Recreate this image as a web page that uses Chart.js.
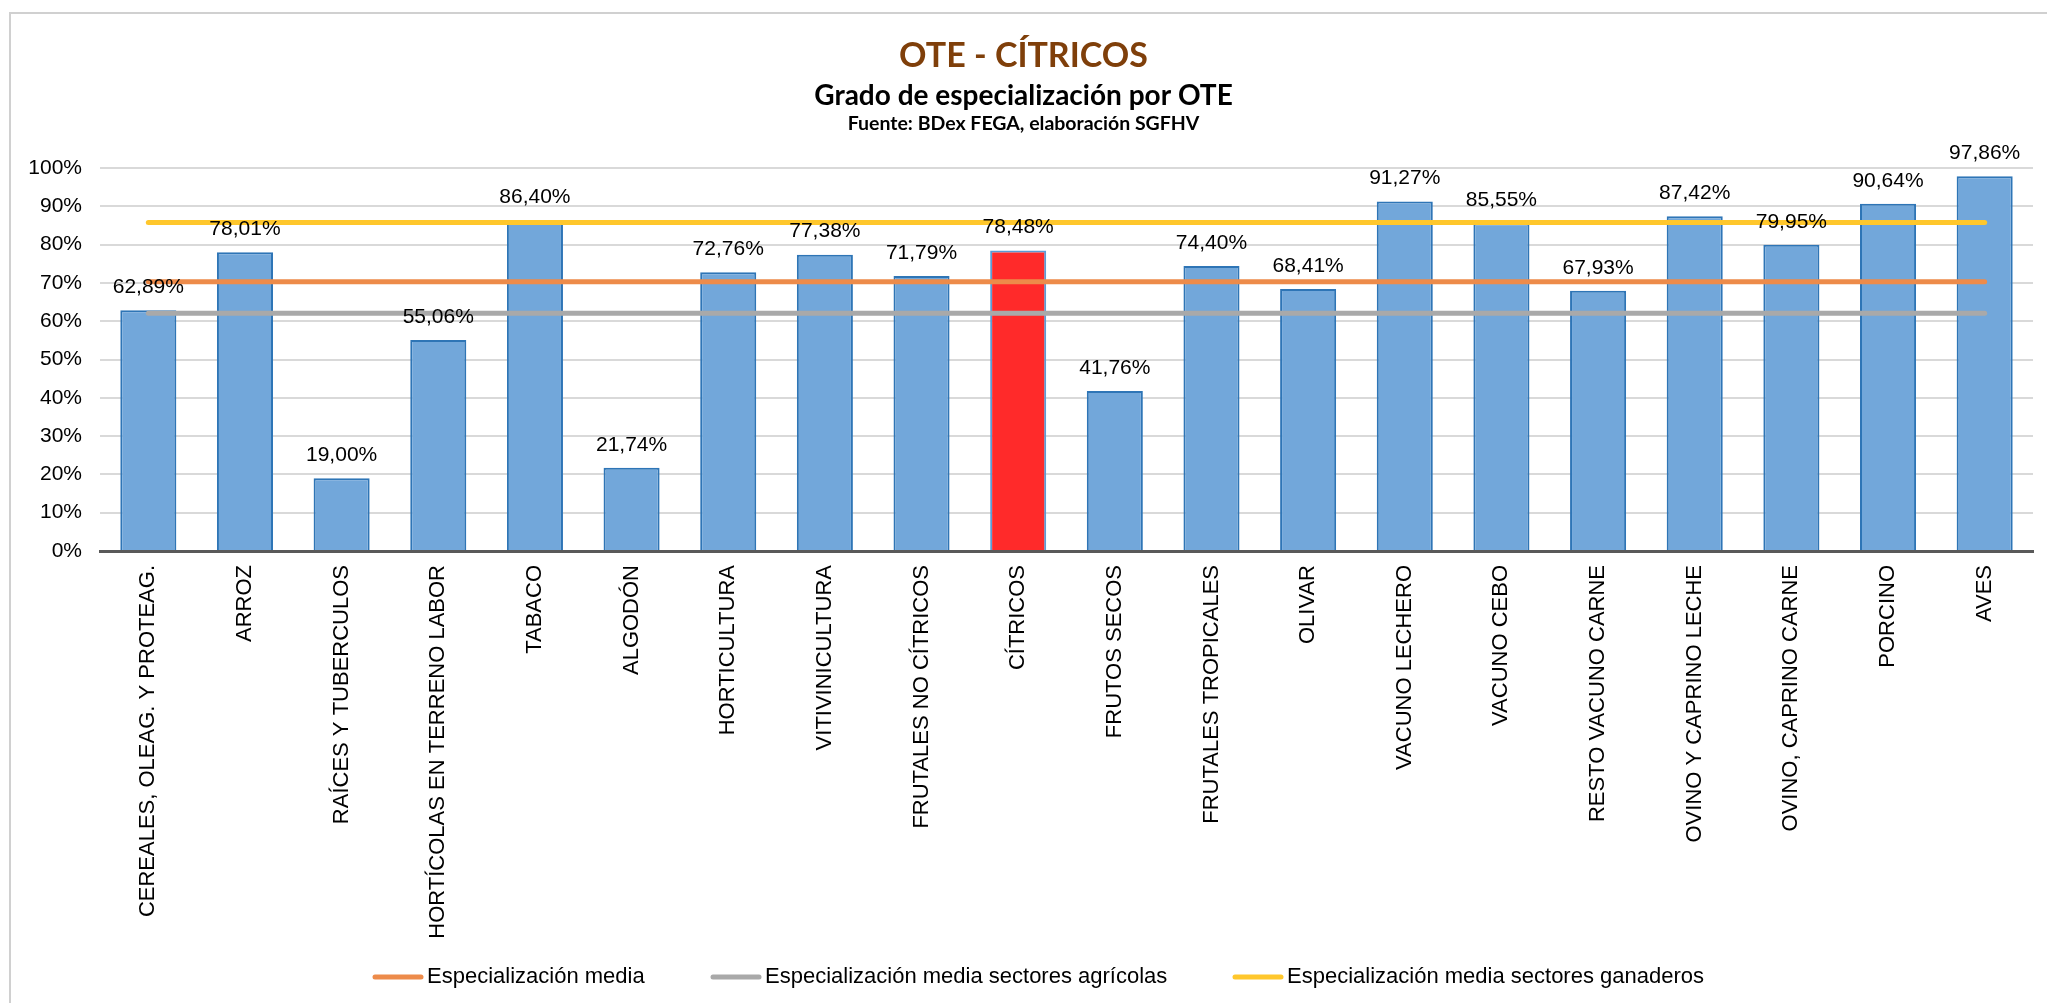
<!DOCTYPE html>
<html>
<head>
<meta charset="utf-8">
<script src="https://cdn.jsdelivr.net/npm/chart.js@4"></script>
<style>
  html, body { margin: 0; padding: 0; background: #fff; }
  #wrap { width: 2047px; height: 1003px; position: relative; }
</style>
</head>
<body>
<div id="wrap"><canvas id="chart" width="2047" height="1003"></canvas></div>
<script>
// categories (OTE)
const categories = [
    "CEREALES, OLEAG. Y PROTEAG.", "ARROZ", "RAÍCES Y TUBERCULOS", "HORTÍCOLAS EN TERRENO LABOR",
    "TABACO", "ALGODÓN", "HORTICULTURA", "VITIVINICULTURA", "FRUTALES NO CÍTRICOS", "CÍTRICOS",
    "FRUTOS SECOS", "FRUTALES TROPICALES", "OLIVAR", "VACUNO LECHERO", "VACUNO CEBO",
    "RESTO VACUNO CARNE", "OVINO Y CAPRINO LECHE", "OVINO, CAPRINO CARNE", "PORCINO", "AVES"
];

// grado de especialización (%)
const especializacion = [
    62.89, 78.01, 19.00, 55.06, 86.40, 21.74, 72.76, 77.38, 71.79, 78.48,
    41.76, 74.40, 68.41, 91.27, 85.55, 67.93, 87.42, 79.95, 90.64, 97.86
];

// reference averages
const mediaTotal = [70.3, 70.3, 70.3, 70.3, 70.3, 70.3, 70.3, 70.3, 70.3, 70.3,
                    70.3, 70.3, 70.3, 70.3, 70.3, 70.3, 70.3, 70.3, 70.3, 70.3];
const mediaAgricola = [62.1, 62.1, 62.1, 62.1, 62.1, 62.1, 62.1, 62.1, 62.1, 62.1,
                       62.1, 62.1, 62.1, 62.1, 62.1, 62.1, 62.1, 62.1, 62.1, 62.1];
const mediaGanadera = [85.8, 85.8, 85.8, 85.8, 85.8, 85.8, 85.8, 85.8, 85.8, 85.8,
                       85.8, 85.8, 85.8, 85.8, 85.8, 85.8, 85.8, 85.8, 85.8, 85.8];

const yTicks = [0, 10, 20, 30, 40, 50, 60, 70, 80, 90, 100];

const highlight = "CÍTRICOS";
const barColors = categories.map(c => c === highlight ? "#FF2A2A" : "#72A7DA");
const barBorders = categories.map(c => c === highlight ? "#5B9BD5" : "#2E75B6");

const FONT = "'Liberation Sans', Arial, sans-serif";

const lineSeries = [
    { label: "Especialización media", data: mediaTotal, color: "#ED8B4A" },
    { label: "Especialización media sectores agrícolas", data: mediaAgricola, color: "#A9A9A9" },
    { label: "Especialización media sectores ganaderos", data: mediaGanadera, color: "#FFC72C" }
];

function fmt(v) {
    return v.toFixed(2).replace(".", ",") + "%";
}

const extras = {
    id: "extras",
    beforeDraw(chart) {
        const ctx = chart.ctx;
        ctx.save();
        ctx.fillStyle = "#fff";
        ctx.fillRect(0, 0, chart.width, chart.height);
        ctx.strokeStyle = "#D0D0D0";
        ctx.lineWidth = 2;
        ctx.strokeRect(10, 13, chart.width + 20, chart.height + 20);
        ctx.restore();
    },
    afterDatasetsDraw(chart) {
        const ctx = chart.ctx;
        const meta = chart.getDatasetMeta(0);
        ctx.save();
        ctx.font = "21px " + FONT;
        ctx.fillStyle = "#000";
        ctx.textAlign = "center";
        ctx.textBaseline = "middle";
        meta.data.forEach((bar, i) => {
            ctx.fillText(fmt(especializacion[i]), bar.x, bar.y - 23);
        });
        ctx.restore();
    },
    afterDraw(chart) {
        const ctx = chart.ctx;
        const cx = chart.width / 2;
        ctx.save();
        ctx.textAlign = "center";
        ctx.textBaseline = "middle";
        ctx.fillStyle = "#7F3F0A";
        ctx.font = "bold 34px Lato, 'Open Sans', sans-serif";
        ctx.fillText("OTE - CÍTRICOS", cx, 56);
        ctx.fillStyle = "#000";
        ctx.font = "bold 28px Lato, 'Open Sans', sans-serif";
        ctx.fillText("Grado de especialización por OTE", cx, 96);
        ctx.font = "bold 19.5px Lato, 'Open Sans', sans-serif";
        ctx.fillText("Fuente: BDex FEGA, elaboración SGFHV", cx, 124);

        // legend
        ctx.font = "22px " + FONT;
        ctx.textAlign = "left";
        const starts = [372, 710, 1232];
        const y = 977;
        lineSeries.forEach((s, i) => {
            ctx.strokeStyle = s.color;
            ctx.lineWidth = 5;
            ctx.lineCap = "round";
            ctx.beginPath();
            ctx.moveTo(starts[i] + 3, y);
            ctx.lineTo(starts[i] + 49, y);
            ctx.stroke();
            ctx.fillStyle = "#000";
            ctx.fillText(s.label, starts[i] + 55, y);
        });
        ctx.restore();
    }
};

new Chart(document.getElementById("chart").getContext("2d"), {
    type: "bar",
    data: {
        labels: categories,
        datasets: [
            {
                type: "bar",
                label: "Grado de especialización",
                data: especializacion,
                backgroundColor: barColors,
                borderColor: barBorders,
                borderWidth: 2,
                barPercentage: 0.58,
                categoryPercentage: 1,
                order: 2
            },
            ...lineSeries.map(s => ({
                type: "line",
                label: s.label,
                data: s.data,
                borderColor: s.color,
                backgroundColor: s.color,
                borderWidth: 5,
                borderCapStyle: "round",
                pointRadius: 0,
                tension: 0,
                order: 1
            }))
        ]
    },
    options: {
        responsive: false,
        animation: false,
        layout: { padding: { top: 168, right: 14, left: 0, bottom: 0 } },
        plugins: {
            legend: { display: false },
            title: { display: false },
            tooltip: { enabled: false }
        },
        scales: {
            x: {
                grid: { display: false, drawTicks: false },
                border: { display: true, color: "#595959", width: 3 },
                ticks: {
                    color: "#000",
                    font: { family: FONT, size: 22 },
                    minRotation: 90,
                    maxRotation: 90,
                    autoSkip: false,
                    padding: 14
                },
                afterFit(scale) { scale.height = 1003 - 551; }
            },
            y: {
                min: 0,
                max: 100,
                afterBuildTicks(scale) { scale.ticks = yTicks.map(v => ({ value: v })); },
                grid: { color: "#D9D9D9", lineWidth: 2, drawTicks: false },
                border: { display: false },
                ticks: {
                    color: "#000",
                    font: { family: FONT, size: 21 },
                    padding: 18,
                    callback: v => v + "%"
                },
                afterFit(scale) { scale.width = 100; }
            }
        }
    },
    plugins: [extras]
});
</script>
</body>
</html>
